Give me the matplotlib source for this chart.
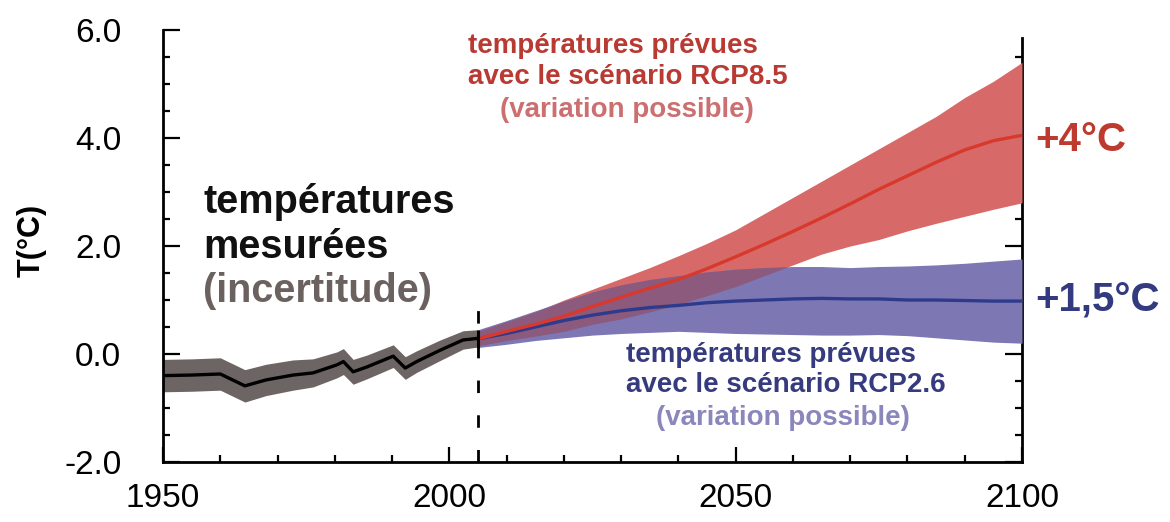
import matplotlib
matplotlib.use("Agg")
import matplotlib.pyplot as plt
import numpy as np

# ---------------- data ----------------
obs_years = [1950, 1955, 1960, 1964.3, 1968, 1972.7, 1976.2, 1980.4, 1981.5, 1983.2,
             1985.6, 1990.2, 1992.3, 1994.3, 1998.4, 2002.4, 2005]
obs_mean = [-0.40, -0.39, -0.37, -0.59, -0.48, -0.39, -0.35, -0.20, -0.14, -0.33,
            -0.24, -0.04, -0.26, -0.14, 0.07, 0.26, 0.29]
obs_err = [0.30, 0.30, 0.30, 0.30, 0.29, 0.28, 0.26, 0.24, 0.24, 0.23,
           0.22, 0.21, 0.21, 0.20, 0.19, 0.17, 0.16]

proj_years = [2005, 2010, 2015, 2020, 2025, 2030, 2035, 2040, 2045, 2050,
              2055, 2060, 2065, 2070, 2075, 2080, 2085, 2090, 2095, 2100]
rcp85_mean = [0.28, 0.42, 0.55, 0.70, 0.88, 1.05, 1.22, 1.38, 1.58, 1.80,
              2.03, 2.27, 2.52, 2.78, 3.05, 3.30, 3.55, 3.78, 3.95, 4.05]
rcp85_upper = [0.42, 0.60, 0.78, 1.00, 1.20, 1.40, 1.60, 1.82, 2.05, 2.30,
               2.60, 2.90, 3.20, 3.50, 3.80, 4.10, 4.40, 4.75, 5.05, 5.40]
rcp85_lower = [0.15, 0.25, 0.33, 0.42, 0.55, 0.65, 0.78, 0.92, 1.08, 1.25,
               1.45, 1.65, 1.85, 2.00, 2.12, 2.28, 2.42, 2.55, 2.68, 2.80]
rcp26_mean = [0.28, 0.38, 0.50, 0.62, 0.72, 0.80, 0.86, 0.90, 0.95, 0.98,
              1.00, 1.02, 1.03, 1.02, 1.02, 1.00, 1.00, 0.99, 0.98, 0.98]
rcp26_upper = [0.45, 0.62, 0.80, 0.98, 1.15, 1.28, 1.38, 1.45, 1.52, 1.57,
               1.60, 1.62, 1.62, 1.60, 1.62, 1.63, 1.65, 1.68, 1.72, 1.76]
rcp26_lower = [0.12, 0.18, 0.25, 0.30, 0.35, 0.38, 0.40, 0.42, 0.40, 0.38,
               0.37, 0.36, 0.35, 0.35, 0.36, 0.34, 0.30, 0.26, 0.22, 0.20]

x_major = [1950, 2000, 2050, 2100]
y_major = [-2.0, 0.0, 2.0, 4.0, 6.0]
split_year = 2005

# ---------------- figure ----------------
fig = plt.figure(figsize=(11.7, 5.22), dpi=100)
ax = fig.add_axes([163/1170, 1-462/522, (1022-163)/1170, (462-30)/522])

oy = np.array(obs_years); om = np.array(obs_mean); oe = np.array(obs_err)
py = np.array(proj_years)
r_m, r_u, r_l = map(np.array, (rcp85_mean, rcp85_upper, rcp85_lower))
b_m, b_u, b_l = map(np.array, (rcp26_mean, rcp26_upper, rcp26_lower))

ax.fill_between(oy, om - oe, om + oe, color='#6d6563', lw=0, zorder=2)
ax.plot(oy, om, color='black', lw=2.4, zorder=5)

ax.fill_between(py, r_l, r_u, color='#d76a68', lw=0, zorder=2)
ax.fill_between(py, b_l, b_u, color='#7d77b4', lw=0, zorder=2)
ov_lo = np.maximum(r_l, b_l)
ov_hi = np.minimum(r_u, b_u)
ax.fill_between(py, ov_lo, ov_hi, where=ov_hi > ov_lo, interpolate=True,
                color='#8c5a7c', lw=0, zorder=3)
ax.plot(py, b_m, color='#2e3a8c', lw=2.4, zorder=4)
ax.plot(py, r_m, color='#d8392c', lw=2.4, zorder=4)

# vertical marker at end of observations + dashed separator
ax.vlines(split_year, om[-1] - oe[-1] - 0.02, om[-1] + oe[-1], color='black', lw=2.2, zorder=6)
ax.vlines(split_year, -2.0, 0.98, color='black', lw=2.0, linestyles=(0, (4.5, 8)), zorder=1)

ax.set_xlim(1950, 2100)
ax.set_ylim(-2.0, 6.0)

ax.spines['top'].set_visible(False)
for s in ['left', 'bottom']:
    ax.spines[s].set_linewidth(2.0)

ax.set_xticks(x_major)
ax.set_xticks([y for y in range(1960, 2100, 10) if y not in x_major], minor=True)
ax.set_yticks(y_major)
ax.set_yticks([v for v in np.arange(-1.5, 6.0, 0.5) if v not in y_major], minor=True)
ax.set_xticklabels([str(v) for v in x_major])
ax.set_yticklabels(['%.1f' % v for v in y_major])

for lab in ax.get_xticklabels() + ax.get_yticklabels():
    lab.set_fontfamily(['Liberation Sans', 'DejaVu Sans'])
    lab.set_fontsize(24)

ax.tick_params(axis='both', which='both', direction='in', width=1.6, color='black')
ax.tick_params(axis='y', which='major', length=12, pad=30)
ax.tick_params(axis='y', which='minor', length=5)
ax.tick_params(axis='x', which='major', length=11, pad=15)
ax.tick_params(axis='x', which='minor', length=5)

# right-side ticks (spine stops below 6.0)
sec = ax.secondary_yaxis('right')
sec.set_yticks([-2.0, 0.0, 2.0, 4.0])
sec.set_yticks([v for v in np.arange(-1.5, 5.6, 0.5) if v not in y_major], minor=True)
sec.tick_params(axis='y', which='both', direction='in', width=1.6, labelright=False)
sec.tick_params(axis='y', which='major', length=12)
sec.tick_params(axis='y', which='minor', length=5)
sec.spines['right'].set_bounds(-2.0, 5.85)
sec.spines['right'].set_linewidth(2.0)
ax.spines['right'].set_visible(False)

fig.text(32/1170, 1-240/522, 'T(°C)', rotation=90, ha='center', va='center',
         fontsize=22, fontweight='bold', family=['Liberation Sans', 'DejaVu Sans'])

bold = dict(fontweight='bold', family=['Liberation Sans', 'DejaVu Sans'])

# measured text
ax.text(1957.0, 2.61, 'températures', color='#111111', fontsize=28.5, ha='left', va='baseline', **bold)
ax.text(1957.0, 1.78, 'mesurées', color='#111111', fontsize=28.5, ha='left', va='baseline', **bold)
ax.text(1957.0, 0.96, '(incertitude)', color='#6b6260', fontsize=28.5, ha='left', va='baseline', **bold)

# RCP8.5 text
ax.text(2003.3, 5.70, 'températures prévues', color='#b83a33', fontsize=20, ha='left', va='center', **bold)
ax.text(2003.3, 5.13, 'avec le scénario RCP8.5', color='#b83a33', fontsize=20, ha='left', va='center', **bold)
ax.text(2031.0, 4.52, '(variation possible)', color='#cc6f70', fontsize=20, ha='center', va='center', **bold)

# RCP2.6 text
ax.text(2030.8, -0.02, 'températures prévues', color='#353b7e', fontsize=20, ha='left', va='center', **bold)
ax.text(2030.8, -0.58, 'avec le scénario RCP2.6', color='#353b7e', fontsize=20, ha='left', va='center', **bold)
ax.text(2058.3, -1.19, '(variation possible)', color='#8b86bb', fontsize=20, ha='center', va='center', **bold)

# end labels
ax.text(2102.3, 3.96, '+4°C', color='#bf3a2e', fontsize=29, ha='left', va='center', clip_on=False, **bold)
ax.text(2102.3, 1.00, '+1,5°C', color='#333a80', fontsize=29, ha='left', va='center', clip_on=False, **bold)

fig.savefig('out.png', dpi=100)
